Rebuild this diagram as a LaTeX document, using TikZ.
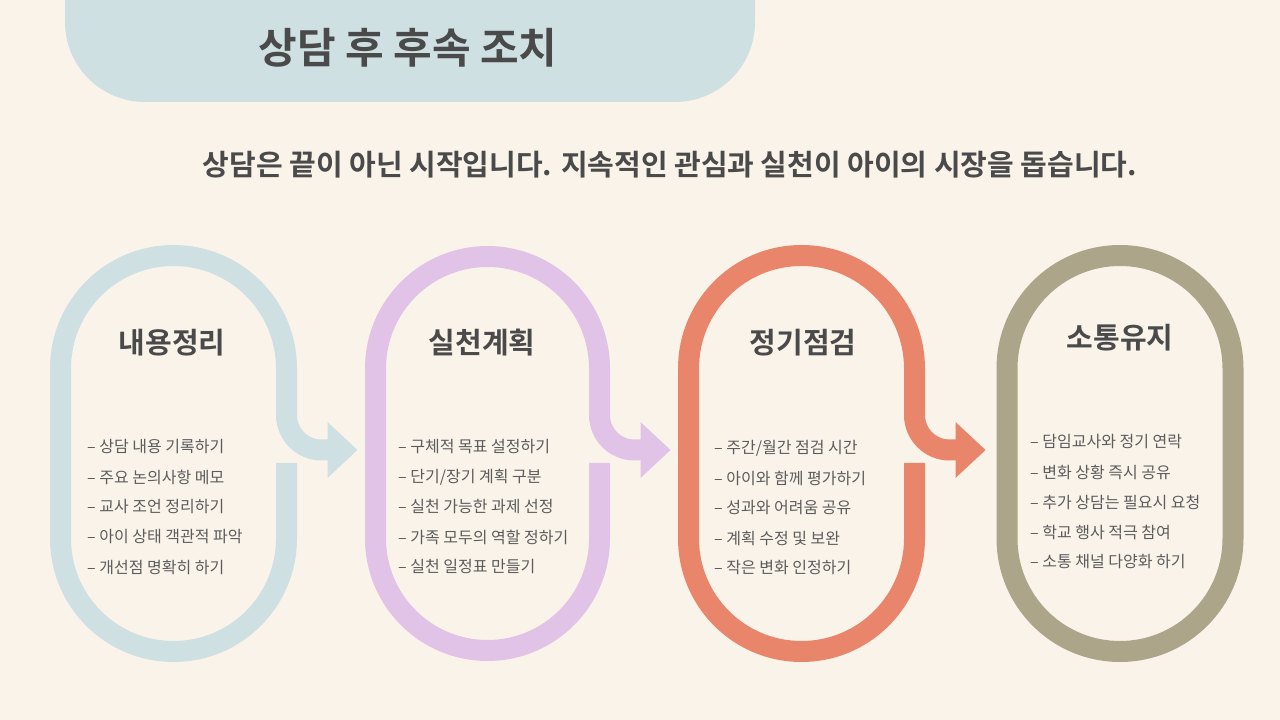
\documentclass[tikz,border=0pt]{standalone}
\usepackage{fontspec}
\setmainfont{Noto Sans CJK KR}[BoldFont={Noto Sans CJK KR Bold}]
\definecolor{bg}{HTML}{FAF3EA}
\definecolor{cblue}{HTML}{CFE0E3}
\definecolor{clav}{HTML}{E1C3E7}
\definecolor{csal}{HTML}{E8856A}
\definecolor{coli}{HTML}{ADA589}
\definecolor{txt}{HTML}{4A4A4A}
\tikzset{
 ring/.style={line width=21pt},
 head/.style={font=\bfseries\fontsize{29}{31}\selectfont, text=txt},
 item/.style={font=\fontsize{16}{18}\selectfont, text=txt!90, anchor=west, inner sep=0pt},
}
\begin{document}
\begin{tikzpicture}[x=1pt,y=1pt]
\fill[bg] (0,0) rectangle (1280,720);
\useasboundingbox (0,0) rectangle (1280,720);
% banner
\fill[cblue] (65,760) -- (65,698) arc(180:270:80) -- (675,618) arc(270:360:80) -- (755,760) -- cycle;
\node[text=txt, font=\bfseries\fontsize{42}{46}\selectfont] (title) at (408,672) {상담 후 후속 조치};
\node[text=txt, font=\bfseries\fontsize{29}{32}\selectfont] (sub) at (670,555) {상담은 끝이 아닌 시작입니다. 지속적인 관심과 실천이 아이의 시장을 돕습니다.};
\foreach \xl/\xr/\c/\arr in {60.5/286.5/cblue/1, 375.5/599.5/clav/1, 688.5/914.5/csal/1, 1007/1233/coli/0}{
  \pgfmathsetmacro{\r}{(\xr-\xl)/2}
  \ifnum\arr=1
    \draw[ring,\c] (\xr,257) -- (\xr,181.5) arc(0:-180:\r) -- (\xl,351.5) arc(180:0:\r) -- (\xr,305) arc(180:270:35) -- (\xr+44,270);
    \fill[\c] (\xr+41,298) -- (\xr+71,270) -- (\xr+41,242) -- cycle;
  \else
    \draw[ring,\c] (\xr,181.5) arc(0:-180:\r) -- (\xl,351.5) arc(180:0:\r) -- cycle;
  \fi
}
\node[head] (h1) at (172,377) {내용정리};
\node[head] (h2) at (482,377) {실천계획};
\node[head] (h3) at (803,377) {정기점검};
\node[head] (h4) at (1120,382) {소통유지};
\foreach \t [count=\i] in {– 상담 내용 기록하기, – 주요  논의사항 메모, – 교사 조언 정리하기, – 아이 상태 객관적 파악, – 개선점 명확히 하기}
  \node[item] (a\i) at (87,273-30*\i+30) {\t};
\foreach \t [count=\i] in {–  구체적 목표 설정하기, – 단기/장기 계획 구분, – 실천 가능한 과제 선정, – 가족 모두의 역할 정하기, – 실천 일정표 만들기}
  \node[item] (b\i) at (398,273-30*\i+30) {\t};
\foreach \t [count=\i] in {–  주간/월간 점검 시간, – 아이와 함께 평가하기, – 성과와 어려움 공유, – 계획 수정 및 보완, – 작은 변화 인정하기}
  \node[item] (c\i) at (714,272-30*\i+30) {\t};
\foreach \t [count=\i] in {– 담임교사와  정기 연락, – 변화 상황 즉시 공유, – 추가 상담는 필요시 요청, – 학교 행사 적극 참여, – 소통 채널 다양화 하기}
  \node[item] (d\i) at (1030,278-30*\i+30) {\t};
\end{tikzpicture}
\end{document}
